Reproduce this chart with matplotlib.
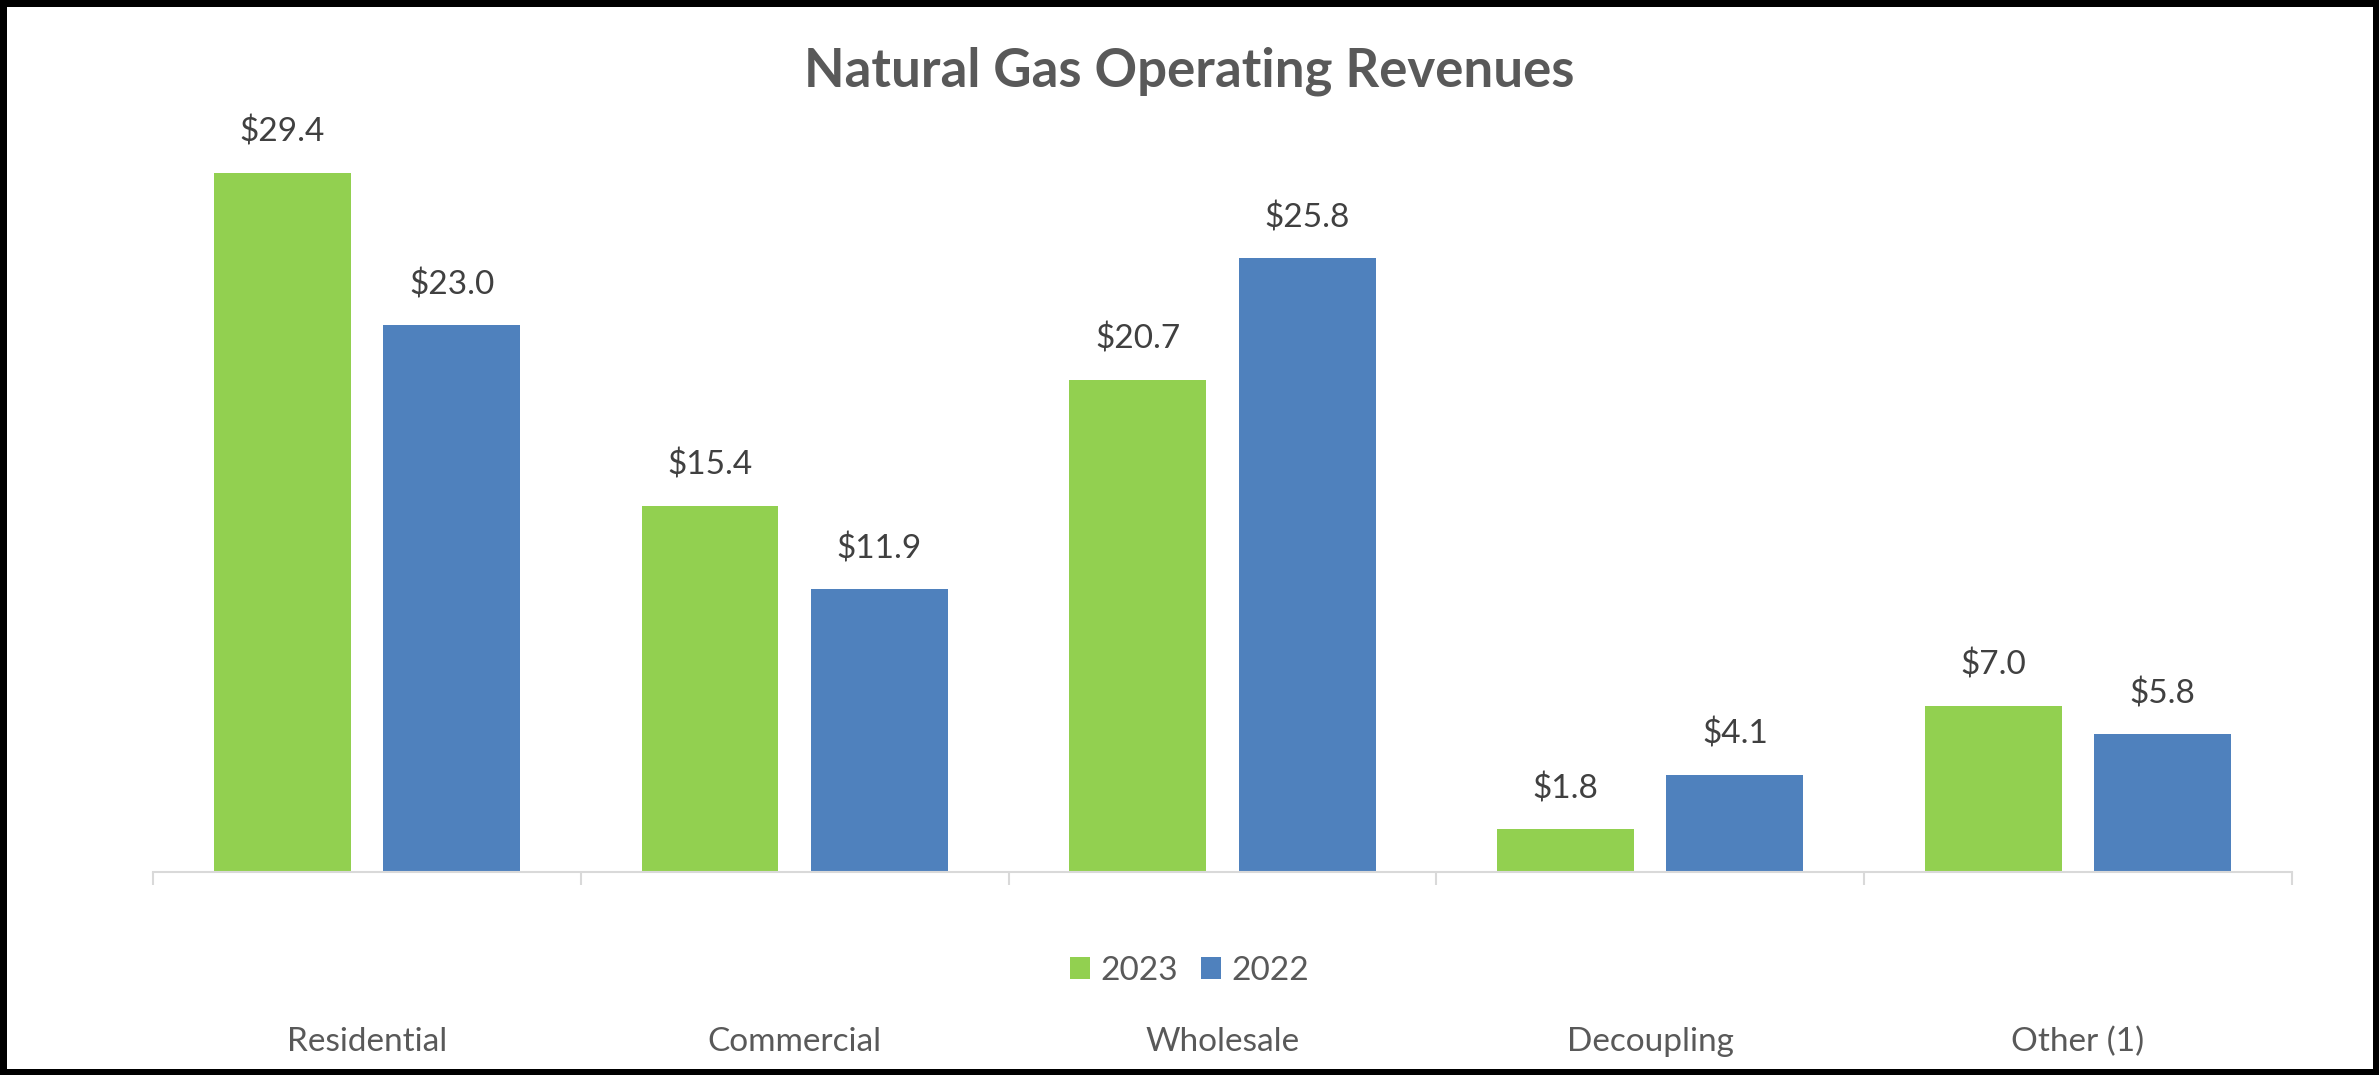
import matplotlib.pyplot as plt
import numpy as np

categories = ['Residential', 'Commercial', 'Wholesale', 'Decoupling', 'Other (1)']
rev_2023 = [29.4, 15.4, 20.7, 1.8, 7.0]
rev_2022 = [23.0, 11.9, 25.8, 4.1, 5.8]
years = ['2023', '2022']

GREEN = '#92D050'
BLUE = '#4F81BD'
FONT = ['Lato', 'DejaVu Sans']

plt.rcParams['font.family'] = FONT

fig = plt.figure(figsize=(23.79, 10.75), dpi=100)
fig.patch.set_facecolor('white')
fig.patch.set_edgecolor('black')
fig.patch.set_linewidth(8)

ax = fig.add_axes([0.0643, 0.1888, 0.8991, 0.7265])
x = np.arange(len(categories))
w = 0.32
b1 = ax.bar(x - 0.198, rev_2023, w, color=GREEN, label=years[0])
b2 = ax.bar(x + 0.198, rev_2022, w, color=BLUE, label=years[1])

for bars in (b1, b2):
    for rect in bars:
        h = rect.get_height()
        ax.annotate(f'${h:.1f}', (rect.get_x() + rect.get_width() / 2, h),
                    xytext=(0, 29), textcoords='offset points',
                    ha='center', va='center', fontsize=24, color='#404040',
                    annotation_clip=False)

ax.set_xlim(-0.5, len(categories) - 0.5)
ax.set_ylim(0, 32.83)
for s in ['top', 'right', 'left']:
    ax.spines[s].set_visible(False)
ax.spines['bottom'].set_color('#d9d9d9')
ax.spines['bottom'].set_linewidth(1.5)
ax.set_yticks([])
ax.set_xticks(np.arange(-0.5, len(categories), 1.0))
ax.set_xticklabels([])
ax.tick_params(axis='x', length=9, width=1.5, color='#d9d9d9')

# category labels sit below the legend, so place them in figure coords
for i, c in enumerate(categories):
    fig.text(0.0643 + 0.8991 * (i + 0.5) / len(categories), 0.031, c,
             ha='center', va='center', fontsize=24, color='#595959')

fig.legend(handles=[b1, b2], labels=years, loc='center', bbox_to_anchor=(0.5, 0.097),
           ncol=2, frameon=False, fontsize=24, labelcolor='#595959',
           handlelength=0.6, handleheight=0.66, handletextpad=0.3, columnspacing=0.7)

fig.text(0.5, 0.934, 'Natural Gas Operating Revenues', ha='center', va='center',
         fontsize=38, fontweight='bold', color='#595959')

fig.savefig('out.png', dpi=100, facecolor=fig.get_facecolor(), edgecolor=fig.get_edgecolor())
